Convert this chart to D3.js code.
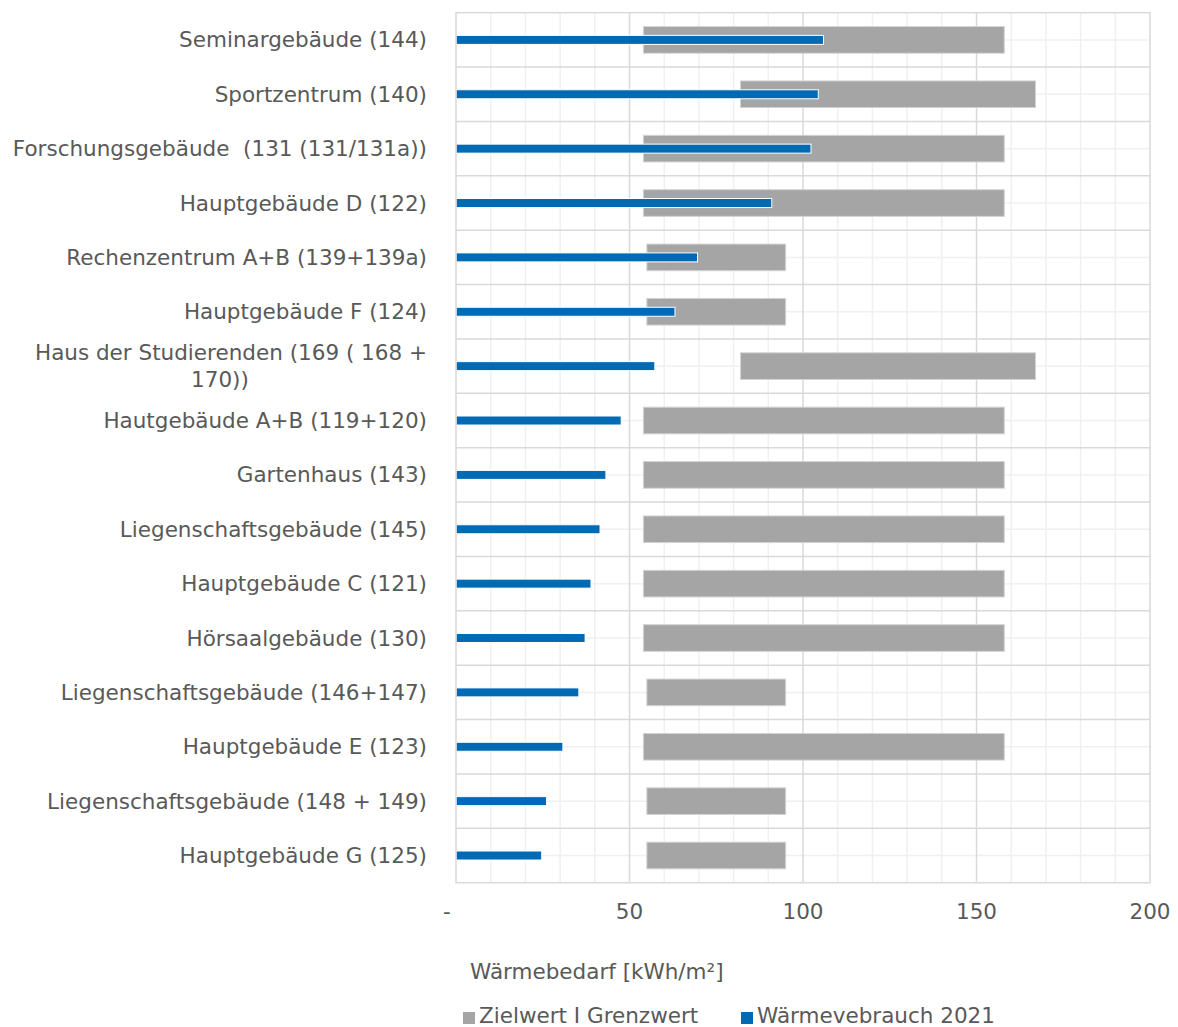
<!DOCTYPE html>
<html><head><meta charset="utf-8">
<script src="https://cdn.jsdelivr.net/npm/d3@7"></script>
<style>
html,body{margin:0;padding:0;background:#fff;}
text{font-family:"DejaVu Sans",Verdana,sans-serif;fill:#595959;white-space:pre;}
</style></head>
<body>
<svg id="chart" width="1178" height="1027"></svg>
<script>
const categories = [
  "Seminargebäude (144)",
  "Sportzentrum (140)",
  "Forschungsgebäude  (131 (131/131a))",
  "Hauptgebäude D (122)",
  "Rechenzentrum A+B (139+139a)",
  "Hauptgebäude F (124)",
  "Haus der Studierenden (169 ( 168 +\n170))",
  "Hautgebäude A+B (119+120)",
  "Gartenhaus (143)",
  "Liegenschaftsgebäude (145)",
  "Hauptgebäude C (121)",
  "Hörsaalgebäude (130)",
  "Liegenschaftsgebäude (146+147)",
  "Hauptgebäude E (123)",
  "Liegenschaftsgebäude (148 + 149)",
  "Hauptgebäude G (125)"
];
// Zielwert (start) and Grenzwert (end) of the grey range
const zielwert  = [54, 82, 54, 54, 55, 55, 82, 54, 54, 54, 54, 54, 55, 54, 55, 55];
const grenzwert = [158,167,158,158, 95, 95,167,158,158,158,158,158, 95,158, 95, 95];
const verbrauch2021 = [105.9, 104.4, 102.3, 91.0, 69.6, 63.1, 57.3, 47.6, 43.2, 41.5, 38.9, 37.2, 35.4, 30.8, 26.1, 24.7];
const tickValues = [0, 50, 100, 150, 200];
const tickLabels = ["-", "50", "100", "150", "200"];
const seriesNames = ["Zielwert I Grenzwert", "Wärmevebrauch 2021"];
const axisTitle = "Wärmebedarf [kWh/m²]";

const svg = d3.select("#chart");
const L = 456, R = 1150, T = 12.7, B = 882.7;
const FS = 21.5;
const x = d3.scaleLinear().domain([0, 200]).range([L, R]);
const y = d3.scaleBand().domain(categories).range([T, B]).padding(0);
const bw = y.bandwidth();

// grid: minor verticals every 10
const g = svg.append("g");
d3.range(10, 200, 10).filter(v => v % 50 !== 0).forEach(v => {
  g.append("line").attr("x1", x(v)).attr("x2", x(v)).attr("y1", T).attr("y2", B)
    .attr("stroke", "#f0f0f0").attr("stroke-width", 1.5);
});
// minor horizontals at band centers
categories.forEach(c => {
  g.append("line").attr("x1", L).attr("x2", R).attr("y1", y(c) + bw / 2).attr("y2", y(c) + bw / 2)
    .attr("stroke", "#f0f0f0").attr("stroke-width", 1.5);
});
// major verticals
[50, 100, 150].forEach(v => {
  g.append("line").attr("x1", x(v)).attr("x2", x(v)).attr("y1", T).attr("y2", B)
    .attr("stroke", "#d9d9d9").attr("stroke-width", 1.5);
});
// major horizontals at band boundaries
categories.forEach((c, i) => {
  if (i === 0) return;
  g.append("line").attr("x1", L).attr("x2", R).attr("y1", y(c)).attr("y2", y(c))
    .attr("stroke", "#d9d9d9").attr("stroke-width", 1.5);
});

// grey range bars
const gh = bw * 0.49;
svg.append("g").selectAll("rect").data(categories).join("rect")
  .attr("x", (d, i) => x(zielwert[i]))
  .attr("width", (d, i) => x(grenzwert[i]) - x(zielwert[i]))
  .attr("y", d => y(d) + bw / 2 - gh / 2)
  .attr("height", gh)
  .attr("fill", "#a5a5a5").attr("stroke", "#d3d3d3").attr("stroke-width", 1);

// blue bars
const bh = 9;
svg.append("g").selectAll("rect").data(categories).join("rect")
  .attr("x", x(0))
  .attr("width", (d, i) => x(verbrauch2021[i]) - x(0))
  .attr("y", d => y(d) + bw / 2 - bh / 2)
  .attr("height", bh)
  .attr("fill", "#006ab4").attr("stroke", "#ffffff").attr("stroke-width", 1);

// plot border
svg.append("rect").attr("x", L).attr("y", T).attr("width", R - L).attr("height", B - T)
  .attr("fill", "none").attr("stroke", "#d9d9d9").attr("stroke-width", 1.5);

// category labels
const lab = svg.append("g");
categories.forEach(c => {
  const lines = c.split("\n");
  const cy = y(c) + bw / 2;
  if (lines.length === 1) {
    lab.append("text").attr("x", 427).attr("y", cy + 7.5).attr("text-anchor", "end")
      .attr("font-size", FS).text(lines[0]);
  } else {
    const t1 = lab.append("text").attr("x", 427).attr("y", cy - 13.5 + 7.5).attr("text-anchor", "end")
      .attr("font-size", FS).text(lines[0]);
    const w = t1.node().getComputedTextLength();
    lab.append("text").attr("x", 427 - w / 2 - 11).attr("y", cy + 13.5 + 7.5).attr("text-anchor", "middle")
      .attr("font-size", FS).text(lines[1]);
  }
});

// x tick labels
tickValues.forEach((v, i) => {
  svg.append("text").attr("x", x(v) + (v === 0 ? -9 : 0)).attr("y", 919)
    .attr("text-anchor", "middle").attr("font-size", FS).text(tickLabels[i]);
});

// axis title
svg.append("text").attr("x", 470).attr("y", 979).attr("font-size", FS).text(axisTitle);

// legend
const legColors = ["#a5a5a5", "#006ab4"];
const legX = [463, 741];
seriesNames.forEach((n, i) => {
  svg.append("rect").attr("x", legX[i]).attr("y", 1012).attr("width", 12).attr("height", 12)
    .attr("fill", legColors[i]);
  svg.append("text").attr("x", legX[i] + 16).attr("y", 1023).attr("font-size", FS).text(n);
});
</script>
</body></html>
